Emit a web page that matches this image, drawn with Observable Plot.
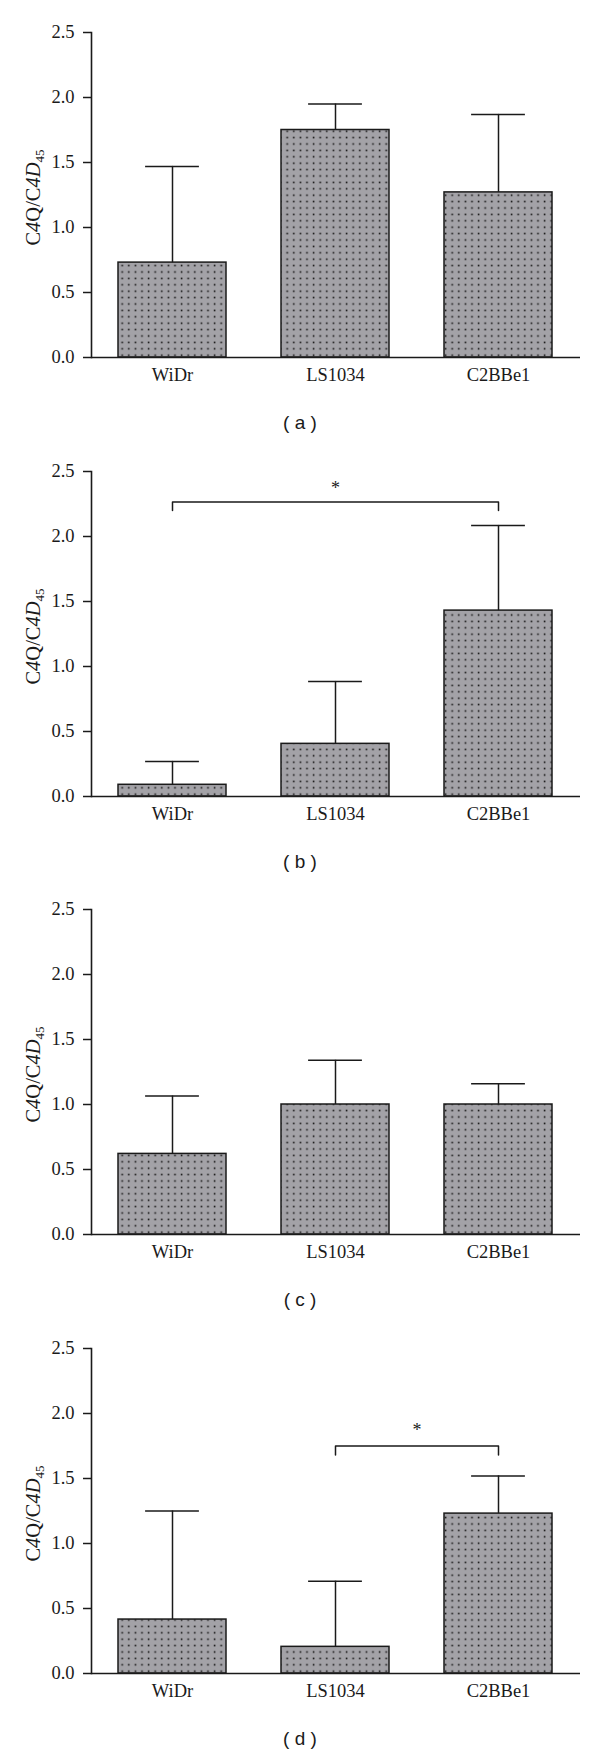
<!DOCTYPE html>
<html>
<head>
<meta charset="utf-8">
<script src="https://cdn.jsdelivr.net/npm/d3@7"></script>
<script src="https://cdn.jsdelivr.net/npm/@observablehq/plot@0.6"></script>
<style>
  html, body { margin: 0; padding: 0; background: #fff; overflow: hidden; }
  #root { position: relative; width: 600px; height: 1754px; }
  .panel { position: absolute; left: 0; width: 600px; height: 438.5px; }
  .cap { position: absolute; left: 0; top: 412px; width: 600px; text-align: center;
         font: 19px "Liberation Sans", "DejaVu Sans", sans-serif; color: #1a1a1a; white-space: pre; }
</style>
</head>
<body>
<div id="root"></div>
<script>
// ---- data ----
const categories = ["WiDr", "LS1034", "C2BBe1"];
const panelLabels = ["a", "b", "c", "d"];
const meansA = [0.73, 1.75, 1.27];
const upperA = [1.47, 1.95, 1.87];
const meansB = [0.09, 0.405, 1.43];
const upperB = [0.27, 0.885, 2.085];
const meansC = [0.62, 1.00, 1.00];
const upperC = [1.065, 1.34, 1.16];
const meansD = [0.415, 0.205, 1.23];
const upperD = [1.25, 0.71, 1.52];
const yTicks = [0, 0.5, 1.0, 1.5, 2.0, 2.5];
const yDomain = [0, 2.5];
// significance brackets
const sigB = {from: "WiDr", to: "C2BBe1", level: 2.265, foot: 2.20, star: 2.37, label: "*"};
const sigD = {from: "LS1034", to: "C2BBe1", level: 1.75, foot: 1.68, star: 1.87, label: "*"};

// ---- layout ----
const W = 600, H = 400, ML = 91, MR = 20, MT = 32, MB = 43;
const PAD_IN = 0.335;
const INK = "#1a1a1a";
const SERIF = '"Liberation Serif", "DejaVu Serif", serif';

function makePanel(key, means, uppers, sig) {
  const data = categories.map((c, i) => ({cat: c, mean: means[i], upper: uppers[i]}));
  const pid = "dots-" + key;
  const step = (W - ML - MR) / categories.length;
  const bw = step * (1 - PAD_IN);
  const marks = [
    Plot.barY(data, {x: "cat", y: "mean", fill: `url(#${pid})`, stroke: INK, strokeWidth: 1.5}),
    Plot.ruleX(data, {x: "cat", y1: "mean", y2: "upper", stroke: INK, strokeWidth: 1.5}),
    Plot.tickY(data, {x: "cat", y: "upper", stroke: INK, strokeWidth: 1.5, insetLeft: bw / 4, insetRight: bw / 4}),
    Plot.ruleY([0], {stroke: INK, strokeWidth: 1.6}),
    Plot.frame({anchor: "left", stroke: INK, strokeWidth: 1.6}),
    Plot.axisY({ticks: yTicks, tickFormat: d3.format(".1f"), tickSize: 8, tickPadding: 9, label: null, stroke: INK, strokeWidth: 1.5}),
    Plot.axisX({tickSize: 0, tickPadding: 10, label: null})
  ];
  if (sig) {
    const pts = [
      {x: sig.from, y: sig.foot}, {x: sig.from, y: sig.level},
      {x: sig.to, y: sig.level}, {x: sig.to, y: sig.foot}
    ];
    marks.push(Plot.line(pts, {x: "x", y: "y", stroke: INK, strokeWidth: 1.5}));
    const span = categories.indexOf(sig.to) - categories.indexOf(sig.from);
    marks.push(Plot.text([sig], {x: "from", y: "star", text: "label", dx: span * step / 2, fontSize: 18, fontFamily: SERIF}));
  }
  const svg = Plot.plot({
    width: W, height: H,
    marginLeft: ML, marginRight: MR, marginTop: MT, marginBottom: MB,
    style: {fontFamily: SERIF, fontSize: "18.5px", color: INK, background: "#fff"},
    x: {domain: categories, paddingInner: PAD_IN, paddingOuter: PAD_IN / 2},
    y: {domain: yDomain},
    marks
  });
  // dotted fill pattern
  const defs = d3.select(svg).insert("defs", ":first-child");
  const pat = defs.append("pattern").attr("id", pid).attr("patternUnits", "userSpaceOnUse")
    .attr("width", 6.6).attr("height", 6.4);
  pat.append("rect").attr("width", 6.6).attr("height", 6.4).attr("fill", "#a3a2a7");
  pat.append("rect").attr("x", 2.6).attr("y", 2.4).attr("width", 1.6).attr("height", 1.6).attr("fill", "#161616");
  // y-axis label with mixed styles
  const yMid = (MT + H - MB) / 2 + 3;
  const t = d3.select(svg).append("text")
    .attr("transform", `translate(40,${yMid}) rotate(-90)`)
    .attr("text-anchor", "middle").attr("font-family", SERIF).attr("font-size", 20.5).attr("fill", INK);
  [["C", null], ["4", "italic"], ["Q", null], ["/", null], ["C", null], ["4", "italic"], ["D", "italic"]]
    .forEach(([s, st]) => { const ts = t.append("tspan").text(s); if (st) ts.attr("font-style", st); });
  t.append("tspan").text("45").attr("font-size", 13).attr("dy", 4);
  return svg;
}

const root = document.getElementById("root");
const sets = [[meansA, upperA, null], [meansB, upperB, sigB], [meansC, upperC, null], [meansD, upperD, sigD]];
sets.forEach(([m, u, s], i) => {
  const div = document.createElement("div");
  div.className = "panel";
  div.style.top = (i * 438.5) + "px";
  div.appendChild(makePanel(panelLabels[i], m, u, s));
  const cap = document.createElement("div");
  cap.className = "cap";
  cap.textContent = "( " + panelLabels[i] + " )";
  div.appendChild(cap);
  root.appendChild(div);
});
</script>
</body>
</html>
